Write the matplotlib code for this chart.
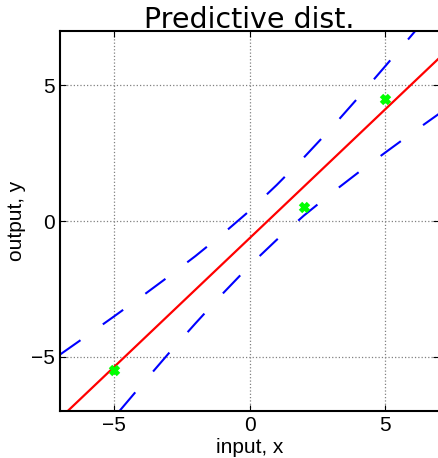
import matplotlib
matplotlib.use("Agg")
import matplotlib.pyplot as plt

# ====== DATOS ======
# puntos de entrenamiento
x_train = [-5, 2, 5]
y_train = [-5.5, 0.5, 4.5]

# media predictiva (recta)
x_mean = [-7, 7]
y_mean = [-7.27, 6.01]

# bandas de error
x_band = [-7, -6, -5, -4, -3, -2, -1, 0, 1, 2, 3, 4, 5, 6, 7]
y_upper = [-4.92, -4.22, -3.51, -2.79, -2.05, -1.29, -0.48, 0.38, 1.33,
           2.34, 3.41, 4.54, 5.70, 6.87, 8.06]
y_lower = [-9.62, -8.42, -7.23, -6.05, -4.89, -3.77, -2.68, -1.64, -0.69,
           0.20, 1.01, 1.78, 2.52, 3.25, 3.96]

ticks = [-5, 0, 5]

# ====== FIGURA ======
fig = plt.figure(figsize=(4.38, 4.58), dpi=100)
ax = fig.add_axes([0.137, 0.1026, 0.866, 0.8296])

ax.plot(x_mean, y_mean, color='red', linewidth=1.6)
dash = (12.0, 13.15)
ax.plot(x_band, y_upper, color='blue', linewidth=1.5,
        linestyle=(0, dash))
# la banda inferior empieza fuera del lienzo: fase ajustada a mano
ax.plot(x_band, y_lower, color='blue', linewidth=1.5,
        linestyle=(20.5, dash))
ax.plot(x_train, y_train, linestyle='none', marker='x', color='#00ff00',
        markersize=6, markeredgewidth=3.5)

ax.set_xlim(-7, 7)
ax.set_ylim(-7, 7)
ax.set_xticks(ticks)
ax.set_yticks(ticks)
ax.tick_params(direction='in', top=True, right=True, length=4, pad=3.6)
for lbl in ax.get_xticklabels() + ax.get_yticklabels():
    lbl.set_fontfamily('Liberation Sans')
    lbl.set_fontsize(15)
ax.grid(True, color='0.5', linestyle=':', linewidth=0.9)
for s in ax.spines.values():
    s.set_linewidth(1.5)

ax.set_xlabel('input, x', fontsize=15, family='Liberation Sans', labelpad=2)
ax.set_ylabel('output, y', fontsize=15, family='Liberation Sans', labelpad=4)
ax.set_title('Predictive dist.', fontsize=20.5, pad=2)

plt.savefig('out.png', dpi=100)
